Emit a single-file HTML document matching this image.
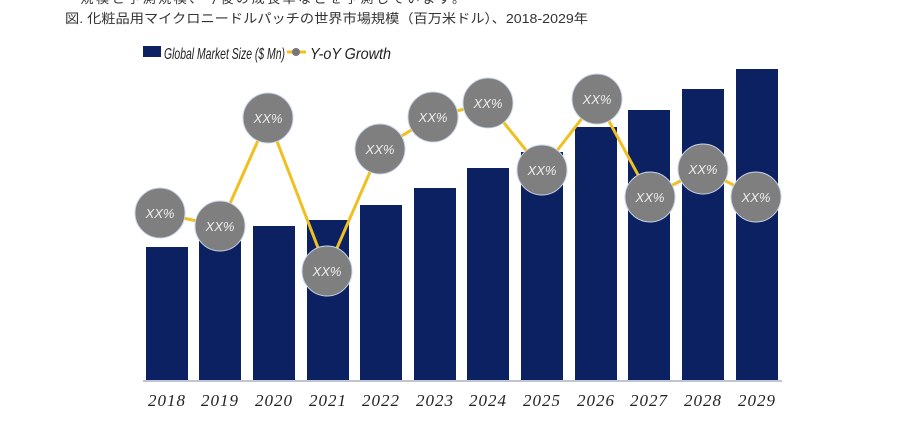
<!DOCTYPE html>
<html><head><meta charset="utf-8"><style>
body{margin:0;background:#fff;width:900px;height:429px;overflow:hidden;font-family:"Liberation Sans","Noto Sans CJK JP",sans-serif}
</style></head><body>
<svg width="900" height="429" xmlns="http://www.w3.org/2000/svg">
<text x="65" y="3" font-size="13" fill="#333" font-family="Liberation Sans, Noto Sans CJK JP, sans-serif" textLength="400">・規模と予測規模、今後の成長率などを予測しています。</text>
<text x="65" y="23" font-size="13" fill="#333" font-family="Liberation Sans, Noto Sans CJK JP, sans-serif" textLength="523" lengthAdjust="spacingAndGlyphs">図.  化粧品用マイクロニードルパッチの世界市場規模（百万米ドル）、2018-2029年</text>
<rect x="143" y="46" width="18" height="11" fill="#0b2161"/>
<text x="164" y="59" font-size="16" font-style="italic" fill="#222" font-family="Liberation Sans, sans-serif" textLength="121" lengthAdjust="spacingAndGlyphs">Global Market Size ($ Mn)</text>
<line x1="287" y1="52" x2="306" y2="52" stroke="#f0c020" stroke-width="3"/>
<circle cx="296" cy="52" r="4" fill="#777"/>
<text x="310" y="59" font-size="16" font-style="italic" fill="#222" font-family="Liberation Sans, sans-serif" textLength="81" lengthAdjust="spacingAndGlyphs">Y-oY Growth</text>
<g fill="#0b2161">
<rect x="146" y="247" width="42" height="133"/>
<rect x="199" y="241" width="42" height="139"/>
<rect x="253" y="226" width="42" height="154"/>
<rect x="307" y="220" width="42" height="160"/>
<rect x="360" y="205" width="42" height="175"/>
<rect x="414" y="188" width="42" height="192"/>
<rect x="467" y="168" width="42" height="212"/>
<rect x="521" y="152" width="42" height="228"/>
<rect x="575" y="127" width="42" height="253"/>
<rect x="628" y="110" width="42" height="270"/>
<rect x="682" y="89" width="42" height="291"/>
<rect x="736" y="69" width="42" height="311"/>
</g>
<line x1="143" y1="381" x2="782" y2="381" stroke="#a8b4c8" stroke-width="1.5"/>
<polyline fill="none" stroke="#f0c020" stroke-width="3" points="160,213 220,226 268,118 327,271 380,149 433,117 488,103 542,170 597,99 650,197 703,169 756,197"/>
<g fill="#7f7f7f" stroke="#c8d4e8" stroke-width="1">
<circle cx="160" cy="213" r="25"/><circle cx="220" cy="226" r="25"/><circle cx="268" cy="118" r="25"/><circle cx="327" cy="271" r="25"/><circle cx="380" cy="149" r="25"/><circle cx="433" cy="117" r="25"/><circle cx="488" cy="103" r="25"/><circle cx="542" cy="170" r="25"/><circle cx="597" cy="99" r="25"/><circle cx="650" cy="197" r="25"/><circle cx="703" cy="169" r="25"/><circle cx="756" cy="197" r="25"/>
</g>
<g fill="#eee" font-size="13" font-style="italic" text-anchor="middle" font-family="Liberation Sans, sans-serif">
<text x="160" y="218">XX%</text><text x="220" y="231">XX%</text><text x="268" y="123">XX%</text><text x="327" y="276">XX%</text><text x="380" y="154">XX%</text><text x="433" y="122">XX%</text><text x="488" y="108">XX%</text><text x="542" y="175">XX%</text><text x="597" y="104">XX%</text><text x="650" y="202">XX%</text><text x="703" y="174">XX%</text><text x="756" y="202">XX%</text>
</g>
<g fill="#222" font-size="17" font-style="italic" text-anchor="middle" font-family="Liberation Serif, serif" letter-spacing="1">
<text x="167" y="406">2018</text><text x="220" y="406">2019</text><text x="274" y="406">2020</text><text x="328" y="406">2021</text><text x="381" y="406">2022</text><text x="435" y="406">2023</text><text x="488" y="406">2024</text><text x="542" y="406">2025</text><text x="596" y="406">2026</text><text x="649" y="406">2027</text><text x="703" y="406">2028</text><text x="757" y="406">2029</text>
</g>
</svg>
</body></html>
